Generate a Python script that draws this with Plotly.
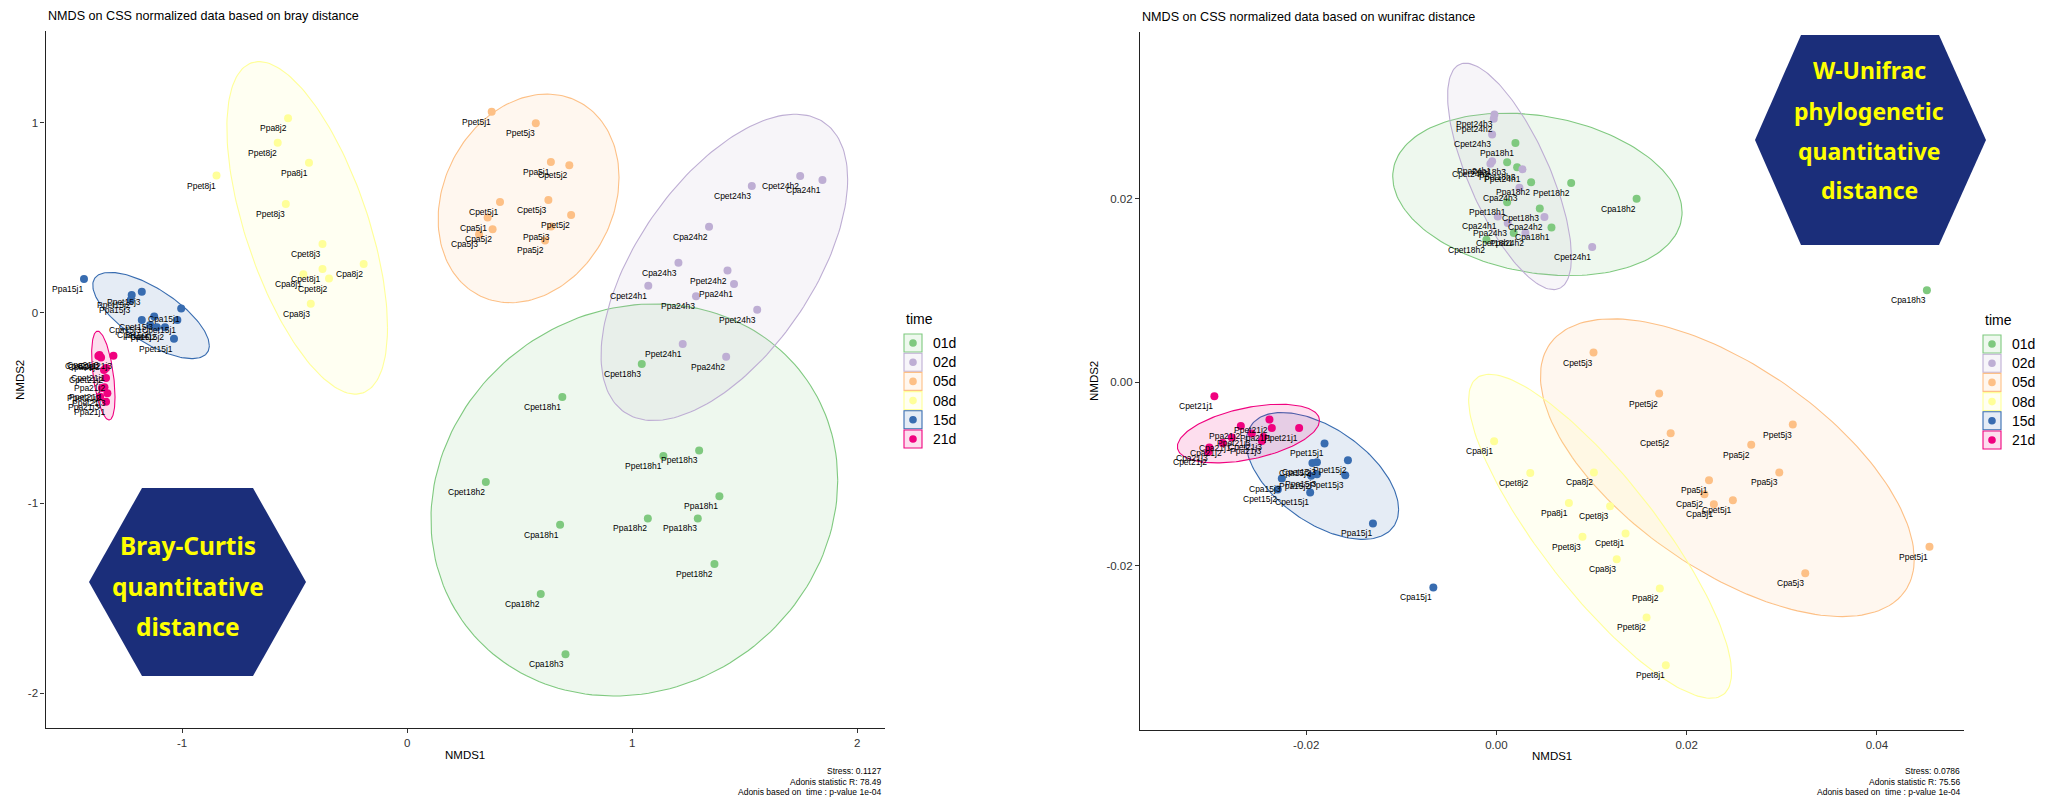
import numpy as np
import plotly.graph_objects as go

W, H = 2046, 798

TIME_LEVELS = ["01d", "02d", "05d", "08d", "15d", "21d"]
TIME_COLORS = ["#7FC97F", "#BEAED4", "#FDC086", "#FFFF99", "#386CB0", "#F0027F"]

# ---------------- Bray-Curtis NMDS ----------------
BRAY_SAMPLE = [
    "Cpet18h3", "Cpet18h1", "Ppet18h1", "Ppet18h3", "Cpet18h2", "Ppa18h1", "Ppa18h2", "Ppa18h3", "Cpa18h1", "Ppet18h2", "Cpa18h2", "Cpa18h3",
    "Cpet24h3", "Cpet24h2", "Cpa24h1", "Cpa24h2", "Cpa24h3", "Cpet24h1", "Ppet24h2", "Ppa24h1", "Ppa24h3", "Ppet24h3", "Ppet24h1", "Ppa24h2",
    "Ppet5j1", "Ppet5j3", "Ppa5j1", "Cpet5j2", "Cpet5j1", "Cpet5j3", "Ppet5j2", "Cpa5j1", "Cpa5j2", "Cpa5j3", "Ppa5j3", "Ppa5j2",
    "Ppa8j2", "Ppet8j2", "Ppa8j1", "Ppet8j1", "Ppet8j3", "Cpet8j3", "Cpa8j2", "Cpet8j1", "Cpa8j1", "Cpet8j2", "Cpa8j3",
    "Ppa15j1", "Ppet15j2", "Ppet15j3", "Ppa15j3", "Cpa15j1", "Cpet15j3", "Cpet15j1", "Cpa15j3", "Cpa15j2", "Ppa15j2", "Cpet15j2", "Ppet15j1",
    "Cpa21j1", "Cpa21j2", "Cpa21j3", "Cpet21j3", "Cpet21j1", "Cpet21j2", "Ppa21j2", "Ppet21j1", "Ppet21j2", "Ppet21j3", "Ppa21j3", "Ppa21j1",
]
BRAY_NMDS1 = [
    1.043, 0.690, 1.139, 1.298, 0.350, 1.388, 1.070, 1.292, 0.680, 1.366, 0.594, 0.704,
    1.532, 1.747, 1.846, 1.342, 1.206, 1.072, 1.424, 1.453, 1.284, 1.556, 1.225, 1.418,
    0.376, 0.572, 0.639, 0.721, 0.413, 0.628, 0.729, 0.358, 0.380, 0.320, 0.640, 0.613,
    -0.529, -0.575, -0.436, -0.847, -0.539, -0.376, -0.193, -0.376, -0.461, -0.347, -0.428,
    -1.436, -1.224, -1.179, -1.228, -1.004, -1.124, -1.021, -1.179, -1.142, -1.112, -1.076, -1.036,
    -1.372, -1.360, -1.367, -1.305, -1.338, -1.347, -1.338, -1.345, -1.356, -1.332, -1.364, -1.338,
]
BRAY_NMDS2 = [
    -0.268, -0.442, -0.753, -0.723, -0.889, -0.965, -1.081, -1.081, -1.114, -1.321, -1.479, -1.796,
    0.668, 0.721, 0.700, 0.454, 0.265, 0.144, 0.223, 0.153, 0.088, 0.017, -0.163, -0.230,
    1.059, 0.998, 0.795, 0.777, 0.584, 0.595, 0.516, 0.502, 0.441, 0.414, 0.455, 0.382,
    1.025, 0.896, 0.791, 0.723, 0.574, 0.363, 0.258, 0.231, 0.204, 0.181, 0.048,
    0.179, 0.095, 0.112, 0.068, 0.023, -0.019, -0.037, -0.037, -0.063, -0.075, -0.075, -0.135,
    -0.226, -0.234, -0.221, -0.225, -0.289, -0.300, -0.342, -0.391, -0.395, -0.423, -0.441, -0.467,
]
BRAY_TIME = ["01d"] * 12 + ["02d"] * 12 + ["05d"] * 12 + ["08d"] * 11 + ["15d"] * 12 + ["21d"] * 12

# ellipse (stat_ellipse): centre, half extents, correlation
BRAY_ELL_CX = [1.010, 1.410, 0.540, -0.444, -1.138, -1.350]
BRAY_ELL_CY = [-0.984, 0.240, 0.603, 0.448, -0.013, -0.329]
BRAY_ELL_HX = [0.904, 0.548, 0.402, 0.357, 0.259, 0.052]
BRAY_ELL_HY = [1.032, 0.806, 0.549, 0.875, 0.227, 0.234]
BRAY_ELL_RHO = [0.10, 0.575, 0.20, -0.60, -0.70, -0.485]

BRAY_STATS = ["Stress: 0.1127", "Adonis statistic R: 78.49", "Adonis based on \u00a0time : p-value 1e-04"]

# ---------------- Weighted UniFrac NMDS ----------------
WUNI_SAMPLE = [
    "Ppa18h1", "Ppa18h3", "Ppet18h3", "Ppa18h2", "Ppet18h2", "Cpa18h2", "Ppet18h1", "Cpet18h3", "Cpa18h1", "Cpet18h1", "Cpet18h2", "Cpa18h3",
    "Ppet24h3", "Ppet24h2", "Cpet24h3", "Ppa24h1", "Cpet24h2", "Ppet24h1", "Cpa24h3", "Cpa24h1", "Ppa24h3", "Cpa24h2", "Ppa24h2", "Cpet24h1",
    "Cpet5j3", "Ppet5j2", "Cpet5j2", "Ppet5j3", "Ppa5j2", "Ppa5j3", "Ppa5j1", "Cpa5j2", "Cpa5j1", "Cpet5j1", "Ppet5j1", "Cpa5j3",
    "Cpa8j1", "Cpet8j2", "Cpa8j2", "Ppa8j1", "Cpet8j3", "Ppet8j3", "Cpet8j1", "Cpa8j3", "Ppa8j2", "Ppet8j2", "Ppet8j1",
    "Ppet15j1", "Ppet15j2", "Cpet15j3", "Cpa15j2", "Ppet15j3", "Ppa15j3", "Ppa15j2", "Cpa15j3", "Cpet15j2", "Cpet15j1", "Ppa15j1", "Cpa15j1",
    "Cpet21j1", "Ppet21j2", "Ppa21j1", "Ppa21j2", "Ppet21j1", "Ppet21j3", "Cpet21j3", "Cpa21j1", "Ppa21j3", "Cpa21j2", "Cpa21j3", "Cpet21j2",
]
WUNI_NMDS1 = [
    0.00200, 0.00113, 0.00218, 0.00365, 0.00786, 0.01474, 0.00113, 0.00456, 0.00579, 0.00182, -0.00105, 0.04526,
    -0.00021, -0.00028, -0.00045, -0.00045, -0.00063, 0.00274, 0.00242, 0.00014, 0.00119, 0.00505, 0.00305, 0.01007,
    0.01021, 0.01711, 0.01832, 0.03116, 0.02679, 0.02974, 0.02235, 0.02187, 0.02286, 0.02486, 0.04553, 0.03247,
    -0.00024, 0.00356, 0.01025, 0.00762, 0.01195, 0.00905, 0.01358, 0.01265, 0.01718, 0.01579, 0.01781,
    -0.01807, -0.01561, -0.01887, -0.01934, -0.01589, -0.01887, -0.01947, -0.02256, -0.02298, -0.01958, -0.01298, -0.00663,
    -0.02965, -0.02386, -0.02361, -0.02687, -0.02074, -0.02572, -0.02449, -0.02782, -0.02466, -0.02877, -0.03018, -0.03028,
]
WUNI_NMDS2 = [
    0.02608, 0.02400, 0.02345, 0.02180, 0.02172, 0.02002, 0.01962, 0.01896, 0.01689, 0.01627, 0.01555, 0.01002,
    0.02921, 0.02874, 0.02703, 0.02409, 0.02383, 0.02322, 0.02122, 0.01809, 0.01736, 0.01802, 0.01627, 0.01474,
    0.00324, -0.00123, -0.00556, -0.00461, -0.00683, -0.00984, -0.01068, -0.01221, -0.01330, -0.01286, -0.01794, -0.02084,
    -0.00645, -0.00989, -0.00984, -0.01316, -0.01352, -0.01686, -0.01649, -0.01932, -0.02249, -0.02565, -0.03087,
    -0.00668, -0.00850, -0.00872, -0.00880, -0.01014, -0.01003, -0.01019, -0.01050, -0.01169, -0.01202, -0.01540, -0.02238,
    -0.00153, -0.00407, -0.00498, -0.00476, -0.00498, -0.00559, -0.00596, -0.00603, -0.00640, -0.00662, -0.00712, -0.00760,
]
WUNI_TIME = ["01d"] * 12 + ["02d"] * 12 + ["05d"] * 12 + ["08d"] * 11 + ["15d"] * 12 + ["21d"] * 12

WUNI_ELL_CX = [0.00431, 0.00138, 0.02428, 0.01090, -0.01830, -0.02607]
WUNI_ELL_CY = [0.02049, 0.02245, -0.00932, -0.01680, -0.01022, -0.00560]
WUNI_ELL_HX = [0.01521, 0.00651, 0.01965, 0.01382, 0.00802, 0.00747]
WUNI_ELL_HY = [0.00886, 0.01235, 0.01624, 0.01767, 0.00692, 0.00320]
WUNI_ELL_RHO = [-0.22, -0.71, -0.614, -0.842, -0.53, 0.446]

WUNI_STATS = ["Stress: 0.0786", "Adonis statistic R: 75.56", "Adonis based on \u00a0time : p-value 1e-04"]

# axis ticks
BRAY_XTICKS = [-1, 0, 1, 2]
BRAY_XTEXT = ["-1", "0", "1", "2"]
BRAY_YTICKS = [-2, -1, 0, 1]
BRAY_YTEXT = ["-2", "-1", "0", "1"]
WUNI_XTICKS = [-0.02, 0.0, 0.02, 0.04]
WUNI_XTEXT = ["-0.02", "0.00", "0.02", "0.04"]
WUNI_YTICKS = [-0.02, 0.0, 0.02]
WUNI_YTEXT = ["-0.02", "0.00", "0.02"]

FONT = "Liberation Sans, Arial, Helvetica, sans-serif"


def px_x(p):
    return p / W


def px_y(p):
    return 1 - p / H


def rgba(hexcol, a):
    h = hexcol.lstrip("#")
    r, g, b = int(h[0:2], 16), int(h[2:4], 16), int(h[4:6], 16)
    return f"rgba({r},{g},{b},{a})"


fig = go.Figure()
annotations = []
shapes = []

panels = [
    dict(xa="x", ya="y", sample=BRAY_SAMPLE, x=BRAY_NMDS1, y=BRAY_NMDS2, time=BRAY_TIME,
         ecx=BRAY_ELL_CX, ecy=BRAY_ELL_CY, ehx=BRAY_ELL_HX, ehy=BRAY_ELL_HY, erho=BRAY_ELL_RHO),
    dict(xa="x2", ya="y2", sample=WUNI_SAMPLE, x=WUNI_NMDS1, y=WUNI_NMDS2, time=WUNI_TIME,
         ecx=WUNI_ELL_CX, ecy=WUNI_ELL_CY, ehx=WUNI_ELL_HX, ehy=WUNI_ELL_HY, erho=WUNI_ELL_RHO),
]

t = np.linspace(0, 2 * np.pi, 181)
for p in panels:
    # ellipses
    for i, lev in enumerate(TIME_LEVELS):
        rho = p["erho"][i]
        ex = p["ecx"][i] + p["ehx"][i] * np.cos(t)
        ey = p["ecy"][i] + p["ehy"][i] * (rho * np.cos(t) + np.sqrt(1 - rho ** 2) * np.sin(t))
        fig.add_trace(go.Scatter(
            x=ex, y=ey, xaxis=p["xa"], yaxis=p["ya"], mode="lines", fill="toself",
            fillcolor=rgba(TIME_COLORS[i], 0.13), line=dict(color=TIME_COLORS[i], width=1.1),
            hoverinfo="skip", showlegend=False))
    # points
    for i, lev in enumerate(TIME_LEVELS):
        idx = [k for k, tt in enumerate(p["time"]) if tt == lev]
        fig.add_trace(go.Scatter(
            x=[p["x"][k] for k in idx], y=[p["y"][k] for k in idx],
            xaxis=p["xa"], yaxis=p["ya"], mode="markers",
            marker=dict(color=TIME_COLORS[i], size=8, line=dict(width=0)),
            text=[p["sample"][k] for k in idx], hoverinfo="text", showlegend=False))
    # sample labels
    for k, name in enumerate(p["sample"]):
        annotations.append(dict(
            x=p["x"][k], y=p["y"][k], xref=p["xa"], yref=p["ya"], text=name,
            showarrow=False, xanchor="right", yanchor="middle", xshift=1, yshift=-10,
            font=dict(family=FONT, size=8.5, color="#000000")))

axis_common = dict(showgrid=False, zeroline=False, showline=True, linecolor="#222222",
                   linewidth=1.2, ticks="outside", ticklen=4, tickwidth=1.1, tickcolor="#333333",
                   tickfont=dict(family=FONT, size=11.5, color="#333333"), automargin=False,
                   fixedrange=True)

fig.update_layout(
    xaxis=dict(domain=[px_x(45.5), px_x(885)], range=[-1.607, 2.124], anchor="y",
               tickvals=BRAY_XTICKS, ticktext=BRAY_XTEXT, **axis_common),
    yaxis=dict(domain=[px_y(728), px_y(31)], range=[-2.184, 1.484], anchor="x",
               tickvals=BRAY_YTICKS, ticktext=BRAY_YTEXT, **axis_common),
    xaxis2=dict(domain=[px_x(1140), px_x(1964)], range=[-0.03747, 0.04916], anchor="y2",
                tickvals=WUNI_XTICKS, ticktext=WUNI_XTEXT, **axis_common),
    yaxis2=dict(domain=[px_y(730), px_y(32)], range=[-0.03793, 0.0382], anchor="x2",
                tickvals=WUNI_YTICKS, ticktext=WUNI_YTEXT, **axis_common),
)


def paper_text(x, y, text, size, xanchor="left", color="#000000", angle=0, family=FONT):
    annotations.append(dict(x=px_x(x), y=px_y(y), xref="paper", yref="paper", text=text,
                            showarrow=False, xanchor=xanchor, yanchor="middle", textangle=angle,
                            font=dict(family=family, size=size, color=color)))


# titles
paper_text(45.5, 16, "NMDS on CSS normalized data based on bray distance", 12.6)
paper_text(1140, 17, "NMDS on CSS normalized data based on wunifrac distance", 12.6)
# axis titles
paper_text(465, 755, "NMDS1", 11.5, xanchor="center")
paper_text(1552, 756, "NMDS1", 11.5, xanchor="center")
paper_text(20, 380, "NMDS2", 11.5, xanchor="center", angle=-90)
paper_text(1094, 381, "NMDS2", 11.5, xanchor="center", angle=-90)
# stats
for j, yy in enumerate([771, 781.5, 792]):
    paper_text(883, yy, BRAY_STATS[j], 8.5, xanchor="right")
    paper_text(1962, yy, WUNI_STATS[j], 8.5, xanchor="right")

# manual ggplot-style legends
for (lx, ty, y0, step) in [(904, 319, 343, 19.2), (1983, 320, 344, 19.2)]:
    paper_text(lx, ty, "time", 14)
    for i, lev in enumerate(TIME_LEVELS):
        cy = y0 + i * step
        shapes.append(dict(type="rect", xref="paper", yref="paper",
                           x0=px_x(lx), x1=px_x(lx + 18), y0=px_y(cy + 9), y1=px_y(cy - 9),
                           fillcolor=rgba(TIME_COLORS[i], 0.13),
                           line=dict(color=TIME_COLORS[i], width=1.1)))
        shapes.append(dict(type="circle", xref="paper", yref="paper",
                           x0=px_x(lx + 9 - 3.8), x1=px_x(lx + 9 + 3.8),
                           y0=px_y(cy + 3.8), y1=px_y(cy - 3.8),
                           fillcolor=TIME_COLORS[i], line=dict(width=0)))
        paper_text(lx + 27, cy, lev, 14)

# hexagon badges
HEX_COLOR = "#1b2e7a"


def hexagon(pts):
    path = "M " + " L ".join(f"{px_x(a):.5f},{px_y(b):.5f}" for a, b in pts) + " Z"
    shapes.append(dict(type="path", xref="paper", yref="paper", path=path,
                       fillcolor=HEX_COLOR, line=dict(width=0), layer="above"))


hexagon([(142, 488), (253, 488), (306, 582), (253, 676), (142, 676), (89, 582)])
hexagon([(1801, 35), (1939, 35), (1986, 140), (1939, 245), (1801, 245), (1755, 140)])
BADGE_FONT = "Noto Sans, DejaVu Sans, sans-serif"
for txt, yy in zip(["Bray-Curtis", "quantitative", "distance"], [545, 586, 626]):
    paper_text(188, yy, "<b>" + txt + "</b>", 24.5, xanchor="center", color="#FFFF00", family=BADGE_FONT)
for txt, yy in zip(["W-Unifrac", "phylogenetic", "quantitative", "distance"], [70, 111, 151, 190]):
    paper_text(1869, yy, "<b>" + txt + "</b>", 23, xanchor="center", color="#FFFF00", family=BADGE_FONT)

fig.update_layout(
    width=W, height=H, margin=dict(l=0, r=0, t=0, b=0),
    paper_bgcolor="white", plot_bgcolor="white", showlegend=False,
    template="none", annotations=annotations, shapes=shapes,
    font=dict(family=FONT),
)

fig.write_html(
    "out.html",
    config={"displayModeBar": False},
    post_script="document.body.style.margin='0px';document.body.style.padding='0px';document.body.style.overflow='hidden';",
)
